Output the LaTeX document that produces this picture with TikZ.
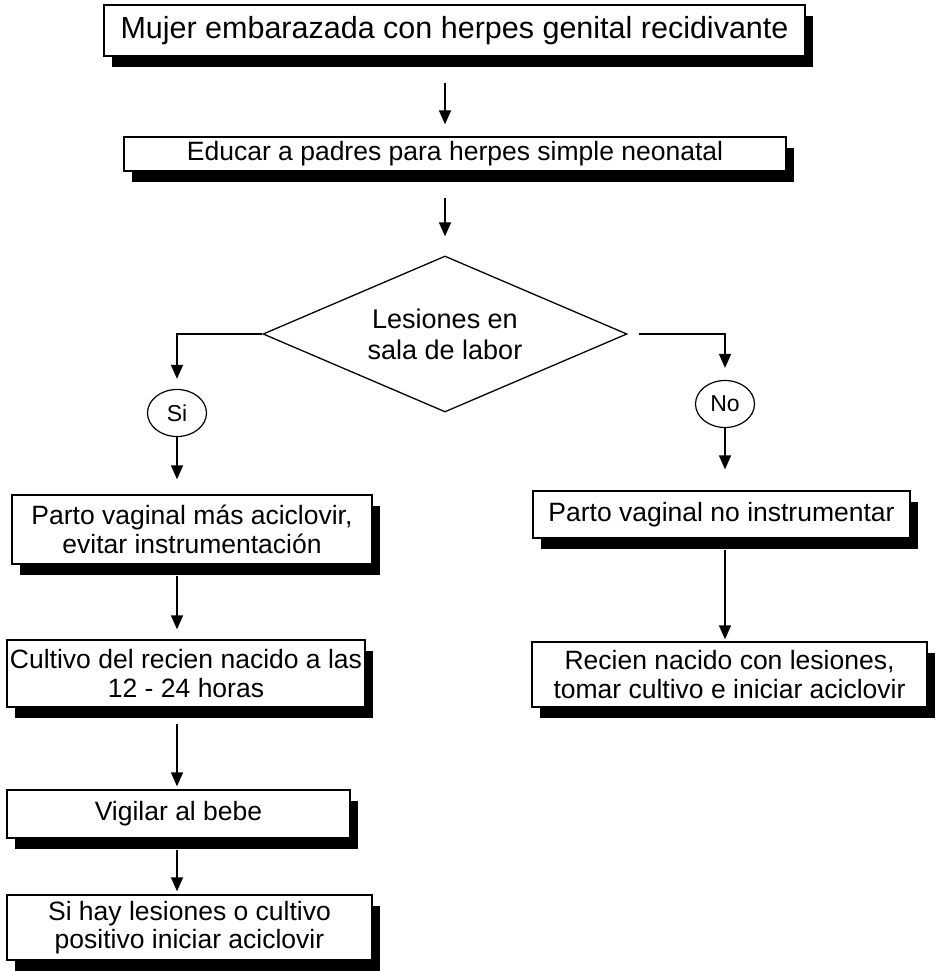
\documentclass[tikz,border=0pt]{standalone}
\usepackage{fontspec}
\setmainfont{Liberation Sans}
\usetikzlibrary{shapes.geometric,shadows,arrows.meta}

\tikzset{
	caja/.style={draw, line width=1.3pt, fill=white, inner sep=0pt, align=center,
		font=\fontsize{26.5}{28.5}\selectfont,
		drop shadow={fill=black, opacity=1, shadow xshift=8pt, shadow yshift=-11pt}},
	rombo/.style={draw, diamond, aspect=2.33, line width=1.3pt, inner sep=0pt, align=center,
		minimum width=364pt, minimum height=156pt, font=\fontsize{27}{31}\selectfont},
	resp/.style={draw, ellipse, line width=1.2pt, inner sep=0pt,
		minimum width=59pt, minimum height=47pt, font=\fontsize{23}{26}\selectfont},
	flecha/.style={line width=1.5pt, -{Triangle[length=14pt,width=12pt]}}
}

\begin{document}
\begin{tikzpicture}[x=1pt, y=-1pt]
	\useasboundingbox (0, 0) rectangle (935, 971);

	\node[caja, minimum width=701pt, minimum height=51pt, font=\fontsize{30.5}{34}\selectfont] (mujer) at (454.5, 30.5) {Mujer embarazada con herpes genital recidivante};
	\node[caja, minimum width=662pt, minimum height=34pt] (educar) at (455, 154) {Educar a padres para herpes simple neonatal};
	\node[rombo] (labor) at (445, 334) {Lesiones en\\sala de labor};
		\node[resp] (si) at (177, 413) {Si};
		\node[resp] (no) at (725, 404) {No};

	\node[caja, minimum width=360pt, minimum height=69pt] (parto) at (192, 529.5) {Parto vaginal más aciclovir,\\evitar instrumentación};
	\node[caja, minimum width=358pt, minimum height=67pt] (cultivo) at (186, 673.5) {Cultivo del recien nacido a las\\12 - 24 horas};
	\node[caja, minimum width=343pt, minimum height=48pt] (vigilar) at (178.5, 814) {Vigilar al bebe};
	\node[caja, minimum width=365pt, minimum height=65pt] (iniciar) at (189.5, 927.5) {Si hay lesiones o cultivo\\positivo iniciar aciclovir};

	\node[caja, minimum width=377pt, minimum height=47pt] (partono) at (721.5, 514.5) {Parto vaginal no instrumentar};
	\node[caja, minimum width=395pt, minimum height=65pt] (recien) at (729.5, 674.5) {Recien nacido con lesiones,\\tomar cultivo e iniciar aciclovir};

	\draw[flecha, shorten <=26pt, shorten >=12pt] (mujer.south -| labor) -- (educar.north -| labor);
	\draw[flecha, shorten <=26pt, shorten >=19pt] (educar.south -| labor) -- (labor.north);

	\draw[flecha, shorten >=10pt] (labor.west) -| (si.north);
	\draw[flecha, shorten <=11pt, shorten >=12pt] (labor.east) -| (no.north);

		\draw[flecha, shorten >=15pt] (si.south) -- (si.south |- parto.north);
		\draw[flecha, shorten <=11pt, shorten >=10pt] (parto.south -| si) -- (cultivo.north -| si);
		\draw[flecha, shorten <=16pt, shorten >=3pt] (cultivo.south -| si) -- (vigilar.north -| si);
		\draw[flecha, shorten <=11pt, shorten >=3pt] (vigilar.south -| si) -- (iniciar.north -| si);

		\draw[flecha, shorten >=21pt] (no.south) -- (no.south |- partono.north);
		\draw[flecha, shorten <=11pt, shorten >=2pt] (partono.south -| no) -- (recien.north -| no);
\end{tikzpicture}
\end{document}
